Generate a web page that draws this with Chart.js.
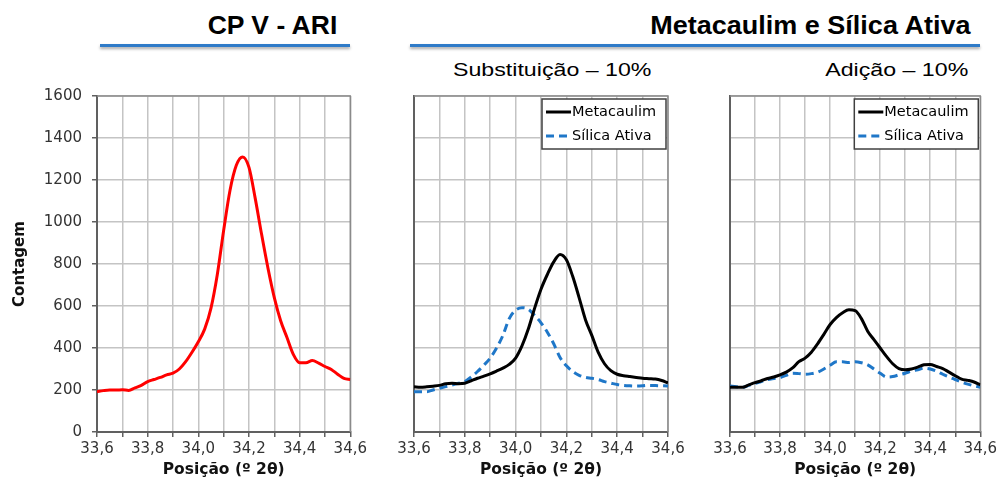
<!DOCTYPE html>
<html>
<head>
<meta charset="utf-8">
<script src="https://cdn.jsdelivr.net/npm/chart.js"></script>
<style>
  body { margin: 0; background: #fff; font-family: "Liberation Sans", Arial, sans-serif; }
  #wrap { position: relative; width: 1000px; height: 487px; overflow: hidden; }
  canvas { position: absolute; top: 0; }
  .title { position: absolute; font-weight: bold; font-size: 25px; color: #000; white-space: nowrap; transform-origin: right top; }
  .sub { position: absolute; font-size: 19px; color: #000; white-space: nowrap; }
  .rule { position: absolute; height: 3px; background: #2f7bc8; box-shadow: 0 2px 3px rgba(0,0,0,0.35); }
</style>
</head>
<body>
<div id="wrap">
  <div class="title" style="right:663px; top:11px; transform:scaleX(1.06);">CP V - ARI</div>
  <div class="title" style="right:30px; top:11px; transform:scaleX(1.08);">Metacaulim e Sílica Ativa</div>
  <div class="rule" style="left:100px; top:44px; width:250px;"></div>
  <div class="rule" style="left:410px; top:44px; width:570px;"></div>
  <div class="sub" style="left:453px; top:59px; transform-origin:left top; transform:scaleX(1.22);">Substituição – 10%</div>
  <div class="sub" style="right:32px; top:59px; transform-origin:right top; transform:scaleX(1.22);">Adição – 10%</div>
  <canvas id="c1" width="370" height="487" style="left:0px;"></canvas>
  <canvas id="c2" width="320" height="487" style="left:370px;"></canvas>
  <canvas id="c3" width="310" height="487" style="left:690px;"></canvas>
</div>
<script>
// posição (º 2θ)
const positions = [33.6, 33.625, 33.65, 33.675, 33.7, 33.725, 33.75, 33.775, 33.8, 33.825,
  33.85, 33.875, 33.9, 33.925, 33.95, 33.975, 34.0, 34.025, 34.05, 34.075,
  34.1, 34.125, 34.15, 34.175, 34.2, 34.225, 34.25, 34.275, 34.3, 34.325,
  34.35, 34.375, 34.4, 34.425, 34.45, 34.475, 34.5, 34.525, 34.55, 34.575, 34.6];

// CP V - ARI
const cpv = [192, 197, 200, 200, 201, 198, 210, 222, 240, 250,
  260, 272, 280, 300, 335, 380, 430, 490, 590, 750,
  960, 1150, 1270, 1310, 1260, 1110, 940, 780, 640, 530,
  450, 370, 330, 330, 340, 328, 312, 298, 275, 255, 250];

// Substituição – 10%
const subMeta = [216, 213, 215, 218, 222, 230, 232, 230, 232, 244,
  256, 266, 277, 290, 304, 322, 352, 410, 490, 590,
  680, 750, 810, 845, 820, 740, 640, 535, 460, 380,
  325, 292, 275, 268, 264, 260, 256, 254, 252, 245, 234];
const subSilica = [192, 192, 192, 200, 208, 216, 224, 232, 240, 262,
  288, 318, 352, 400, 460, 540, 580, 592, 585, 555,
  520, 475, 420, 355, 315, 288, 270, 260, 256, 250,
  240, 233, 226, 222, 220, 219, 220, 222, 221, 220, 219];

// Adição – 10%
const adMeta = [213, 213, 213, 224, 235, 244, 255, 262, 272, 285,
  305, 335, 352, 380, 420, 465, 512, 545, 568, 582,
  578, 540, 480, 440, 400, 360, 325, 302, 296, 300,
  309, 320, 322, 312, 302, 285, 268, 252, 246, 238, 224];
const adSilica = [219, 215, 213, 222, 232, 240, 250, 255, 259, 270,
  280, 278, 275, 278, 285, 300, 318, 334, 334, 331,
  335, 330, 320, 300, 280, 262, 264, 272, 280, 290,
  296, 304, 300, 290, 275, 262, 250, 238, 228, 220, 213];

const yTicks = [0, 200, 400, 600, 800, 1000, 1200, 1400, 1600];

const FONT = "'DejaVu Sans', sans-serif";

function pts(vals) {
  return positions.map((x, i) => ({ x: x, y: vals[i] }));
}

// moldura do gráfico
const frame = {
  id: 'frame',
  beforeDatasetsDraw(chart) {
    const { ctx, chartArea: a } = chart;
    ctx.save();
    ctx.strokeStyle = '#8a8a8a';
    ctx.lineWidth = 1.5;
    ctx.beginPath();
    ctx.moveTo(a.left, a.top);
    ctx.lineTo(a.right, a.top);
    ctx.lineTo(a.right, a.bottom);
    ctx.stroke();
    ctx.restore();
  }
};

// legenda com caixa
const boxLegend = {
  id: 'boxLegend',
  afterDatasetsDraw(chart, args, opts) {
    if (!opts.show) return;
    const { ctx, chartArea: a } = chart;
    const w = 124, h = 50;
    const x = a.right - 2 - w, y = a.top + 3;
    ctx.save();
    ctx.fillStyle = '#fff';
    ctx.fillRect(x, y, w, h);
    ctx.strokeStyle = '#404040';
    ctx.lineWidth = 1.5;
    ctx.strokeRect(x, y, w, h);
    ctx.font = '14.5px ' + FONT;
    ctx.textBaseline = 'middle';
    chart.data.datasets.forEach((ds, i) => {
      const cy = y + 13 + i * 24;
      ctx.strokeStyle = ds.borderColor;
      ctx.lineWidth = 3;
      ctx.setLineDash(ds.borderDash || []);
      ctx.beginPath();
      ctx.moveTo(x + 4, cy);
      ctx.lineTo(x + 29, cy);
      ctx.stroke();
      ctx.setLineDash([]);
      ctx.fillStyle = '#000';
      ctx.fillText(ds.label, x + 30, cy);
    });
    ctx.restore();
  }
};

function makeChart(id, datasets, cfg) {
  return new Chart(document.getElementById(id), {
    type: 'line',
    data: { datasets: datasets },
    plugins: [frame, boxLegend],
    options: {
      responsive: false,
      animation: false,
      layout: { padding: { top: 96, bottom: 0, left: cfg.padLeft, right: cfg.padRight } },
      elements: { point: { radius: 0 }, line: { tension: 0.4, cubicInterpolationMode: 'monotone', borderWidth: 3 } },
      plugins: {
        legend: { display: false },
        tooltip: { enabled: false },
        boxLegend: { show: cfg.legend }
      },
      scales: {
        x: {
          type: 'linear',
          min: 33.6,
          max: 34.6,
          afterFit(s) { s.height = 55; },
          border: { color: '#606060', width: 2 },
          grid: { color: '#c4c4c4', lineWidth: 1.5, tickLength: 5, tickColor: '#606060' },
          ticks: {
            stepSize: 0.1,
            autoSkip: false,
            maxRotation: 0,
            padding: 3,
            color: '#333',
            font: { family: FONT, size: 15 },
            callback: (v, i) => (i % 2 === 0 ? v.toFixed(1).replace('.', ',') : '')
          },
          title: {
            display: true,
            text: 'Posição (º 2θ)',
            color: '#111',
            font: { family: FONT, size: 15.5, weight: 'bold' },
            padding: { top: 0, bottom: 8 }
          }
        },
        y: {
          min: 0,
          max: 1600,
          afterFit(s) { s.width = cfg.yWidth; },
          afterBuildTicks(s) { s.ticks = yTicks.map(v => ({ value: v })); },
          border: { color: '#606060', width: 2 },
          grid: { color: '#c4c4c4', lineWidth: 1.5, tickLength: 5, tickColor: '#606060', drawTicks: cfg.yLabels },
          ticks: {
            display: cfg.yLabels,
            padding: 10,
            color: '#333',
            font: { family: FONT, size: 15 },
            callback: v => String(v)
          },
          title: {
            display: cfg.yLabels,
            text: 'Contagem',
            color: '#111',
            font: { family: FONT, size: 15, weight: 'bold' },
            padding: { top: 11, bottom: 0 }
          }
        }
      }
    }
  });
}

makeChart('c1', [
  { label: 'CP V - ARI', data: pts(cpv), borderColor: '#ff0000' }
], { padLeft: 0, padRight: 17, yWidth: 97, yLabels: true, legend: false });

makeChart('c2', [
  { label: 'Metacaulim', data: pts(subMeta), borderColor: '#000000' },
  { label: 'Sílica Ativa', data: pts(subSilica), borderColor: '#1f77c8', borderDash: [8, 5] }
], { padLeft: 44, padRight: 22, yWidth: 0, yLabels: false, legend: true });

makeChart('c3', [
  { label: 'Metacaulim', data: pts(adMeta), borderColor: '#000000' },
  { label: 'Sílica Ativa', data: pts(adSilica), borderColor: '#1f77c8', borderDash: [8, 5] }
], { padLeft: 40, padRight: 15, yWidth: 0, yLabels: false, legend: true });
</script>
</body>
</html>
